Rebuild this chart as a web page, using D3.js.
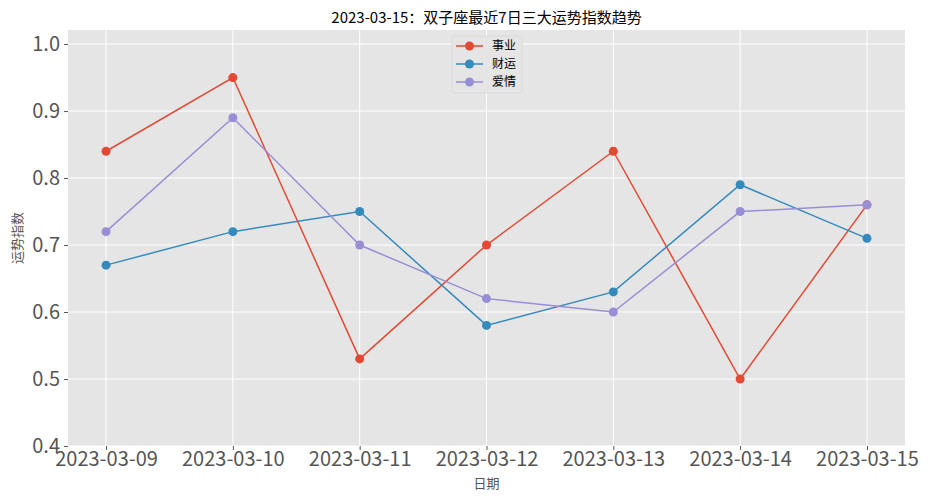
<!DOCTYPE html>
<html><head><meta charset="utf-8">
<script src="https://cdn.jsdelivr.net/npm/d3@7"></script>
<style>body{margin:0;background:#fff}</style>
</head><body>
<svg id="c" width="929" height="500"></svg>
<script>
const dates = ["2023-03-09","2023-03-10","2023-03-11","2023-03-12","2023-03-13","2023-03-14","2023-03-15"];
const career = [0.84,0.95,0.53,0.70,0.84,0.50,0.76];
const wealth = [0.67,0.72,0.75,0.58,0.63,0.79,0.71];
const love = [0.72,0.89,0.70,0.62,0.60,0.75,0.76];
const seriesNames = ["事业","财运","爱情"];
const yTicks = [0.4,0.5,0.6,0.7,0.8,0.9,1.0];
const colors = ["#E24A33","#348ABD","#988ED5"];
const series = [career, wealth, love];

const font = "'Noto Sans CJK SC', 'DejaVu Sans', sans-serif";
const svg = d3.select("#c");
const L=68, R=905, T=30, B=446;
const x = d3.scaleLinear().domain([-0.3, 6.3]).range([L,R]);
const y = d3.scaleLinear().domain([0.4, 1.021]).range([B,T]);

svg.append("rect").attr("x",L).attr("y",T).attr("width",R-L).attr("height",B-T).attr("fill","#E5E5E5");
// grid
svg.append("g").selectAll("line").data(yTicks).join("line")
  .attr("x1",L).attr("x2",R).attr("y1",d=>y(d)).attr("y2",d=>y(d))
  .attr("stroke","#fff").attr("stroke-width",1);
svg.append("g").selectAll("line").data(dates).join("line")
  .attr("x1",(d,i)=>x(i)).attr("x2",(d,i)=>x(i)).attr("y1",T).attr("y2",B)
  .attr("stroke","#fff").attr("stroke-width",1);

// axes
const yAxis = d3.axisLeft(y).tickValues(yTicks).tickFormat(d3.format(".1f")).tickSize(4).tickPadding(4);
const gy = svg.append("g").attr("transform",`translate(${L},0)`).call(yAxis);
gy.select(".domain").remove();
gy.selectAll(".tick line").attr("stroke","#555");
gy.selectAll("text").attr("fill","#555").style("font-family",font).style("font-size","20px");

const xAxis = d3.axisBottom(x).tickValues(d3.range(dates.length)).tickFormat(i=>dates[i]).tickSize(4).tickPadding(2);
const gx = svg.append("g").attr("transform",`translate(0,${B})`).call(xAxis);
gx.select(".domain").remove();
gx.selectAll(".tick line").attr("stroke","#555");
gx.selectAll("text").attr("fill","#555").style("font-family",font).style("font-size","20px");

// lines
const line = d3.line().x((d,i)=>x(i)).y(d=>y(d));
series.forEach((s,k)=>{
  svg.append("path").datum(s).attr("d",line).attr("fill","none")
    .attr("stroke",colors[k]).attr("stroke-width",1.5);
  svg.append("g").selectAll("circle").data(s).join("circle")
    .attr("cx",(d,i)=>x(i)).attr("cy",d=>y(d)).attr("r",4.5).attr("fill",colors[k]);
});

// title and labels
svg.append("text").attr("x",(L+R)/2).attr("y",23).attr("text-anchor","middle")
  .style("font-family",font).style("font-size","15px").attr("fill","#000")
  .text("2023-03-15：双子座最近7日三大运势指数趋势");
svg.append("text").attr("x",(L+R)/2).attr("y",488).attr("text-anchor","middle")
  .style("font-family",font).style("font-size","13px").attr("fill","#555").text("日期");
svg.append("text").attr("transform",`translate(22,${(T+B)/2}) rotate(-90)`).attr("text-anchor","middle")
  .style("font-family",font).style("font-size","13px").attr("fill","#555").text("运势指数");

// legend
const lg = svg.append("g").attr("transform","translate(452,36)");
lg.append("rect").attr("width",70).attr("height",57).attr("rx",2)
  .attr("fill","#E5E5E5").attr("stroke","#d8d8d8").attr("stroke-width",0.8);
seriesNames.forEach((n,k)=>{
  const yy = 10 + k*18;
  lg.append("line").attr("x1",4).attr("x2",31).attr("y1",yy).attr("y2",yy).attr("stroke",colors[k]).attr("stroke-width",1.5);
  lg.append("circle").attr("cx",17.5).attr("cy",yy).attr("r",4.5).attr("fill",colors[k]);
  lg.append("text").attr("x",40).attr("y",yy+4).style("font-family",font).style("font-size","12px").attr("fill","#000").text(n);
});
</script>
</body></html>
